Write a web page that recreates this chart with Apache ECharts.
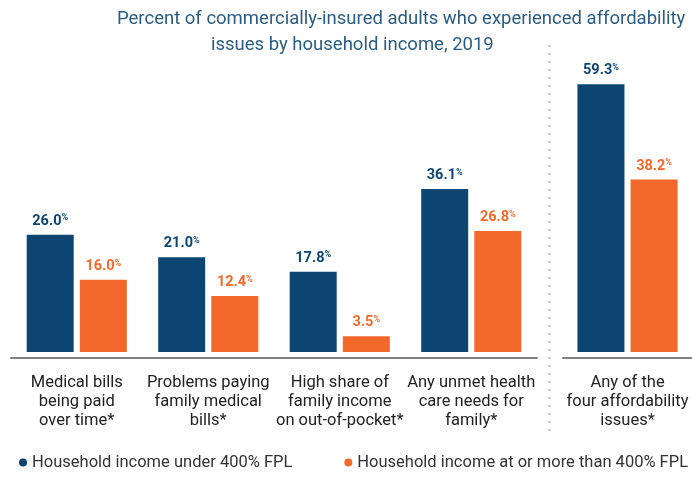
<!DOCTYPE html>
<html>
<head>
<meta charset="utf-8">
<script src="https://cdn.jsdelivr.net/npm/echarts@6/dist/echarts.min.js"></script>
<style>html,body{margin:0;padding:0;background:#fff}#c{width:692px;height:491px}</style>
</head>
<body>
<div id="c"></div>
<script>
const categoriesMain = ["Medical bills\nbeing paid\nover time*", "Problems paying\nfamily medical\nbills*", "High share of\nfamily income\non out-of-pocket*", "Any unmet health\ncare needs for\nfamily*"];
const categoriesAny = ["Any of the\nfour affordability\nissues*"];
const underMain = [26.0, 21.0, 17.8, 36.1];
const overMain = [16.0, 12.4, 3.5, 26.8];
const underAny = [59.3];
const overAny = [38.2];
const seriesNames = ["Household income under 400% FPL", "Household income at or more than 400% FPL"];
const titleLine1 = "Percent of commercially-insured adults who experienced affordability";
const titleLine2 = "issues by household income, 2019";

const NAVY = '#0b4570';
const ORANGE = '#f2692b';
const FONT = 'Roboto';

function lbl(color) {
  return {
    show: true, position: 'top', distance: 6,
    formatter: p => '{v|' + p.value.toFixed(1) + '}{p|%}',
    rich: {
      v: {fontFamily: FONT, fontWeight: 'bold', fontSize: 14.5, color: color},
      p: {fontFamily: FONT, fontWeight: 'bold', fontSize: 9, color: color, verticalAlign: 'top', padding: [0,0,5,0]}
    }
  };
}
function xAx(gi, cats) {
  return {
    type: 'category', gridIndex: gi, data: cats, offset: 6,
    axisLine: {show: true, onZero: false, lineStyle: {color: '#808080', width: 2}},
    axisTick: {show: false},
    axisLabel: {interval: 0, fontFamily: FONT, fontSize: 16.5, color: '#222', lineHeight: 19, margin: 15}
  };
}
function yAx(gi) {
  return {type: 'value', gridIndex: gi, min: 0, max: 70, show: false, splitLine: {show: false}};
}
const barW = 47, gap = '13%';
const chart = echarts.init(document.getElementById('c'));
chart.setOption({
  animation: false,
  title: [
    {text: titleLine1, left: 112, top: 5, textStyle: {fontFamily: FONT, fontWeight: 'normal', fontSize: 18.5, color: '#2b5d82'}},
    {text: titleLine2, left: 206, top: 31, textStyle: {fontFamily: FONT, fontWeight: 'normal', fontSize: 18.5, color: '#2b5d82'}}
  ],
  legend: {
    bottom: 15, left: 14, width: 760, icon: 'circle', itemWidth: 8, itemHeight: 8, itemGap: 52,
    textStyle: {fontFamily: FONT, fontSize: 16.5, color: '#333'},
    data: seriesNames
  },
  grid: [
    {left: 11, width: 526, top: 36, bottom: 139},
    {left: 563, width: 134, top: 36, bottom: 139}
  ],
  xAxis: [xAx(0, categoriesMain), xAx(1, categoriesAny)],
  yAxis: [yAx(0), yAx(1)],
  series: [
    {name: seriesNames[0], type: 'bar', xAxisIndex: 0, yAxisIndex: 0, data: underMain, barWidth: barW, barGap: gap, itemStyle: {color: NAVY}, label: lbl(NAVY)},
    {name: seriesNames[1], type: 'bar', xAxisIndex: 0, yAxisIndex: 0, data: overMain, barWidth: barW, barGap: gap, itemStyle: {color: ORANGE}, label: lbl(ORANGE)},
    {name: seriesNames[0], type: 'bar', xAxisIndex: 1, yAxisIndex: 1, data: underAny, barWidth: barW, barGap: gap, itemStyle: {color: NAVY}, label: lbl(NAVY)},
    {name: seriesNames[1], type: 'bar', xAxisIndex: 1, yAxisIndex: 1, data: overAny, barWidth: barW, barGap: gap, itemStyle: {color: ORANGE}, label: lbl(ORANGE)}
  ],
  graphic: [
    {type: 'line', shape: {x1: 549.5, y1: 45, x2: 549.5, y2: 437}, style: {stroke: '#bbb', lineWidth: 2, lineDash: [2, 6]}}
  ]
});
</script>
</body>
</html>
